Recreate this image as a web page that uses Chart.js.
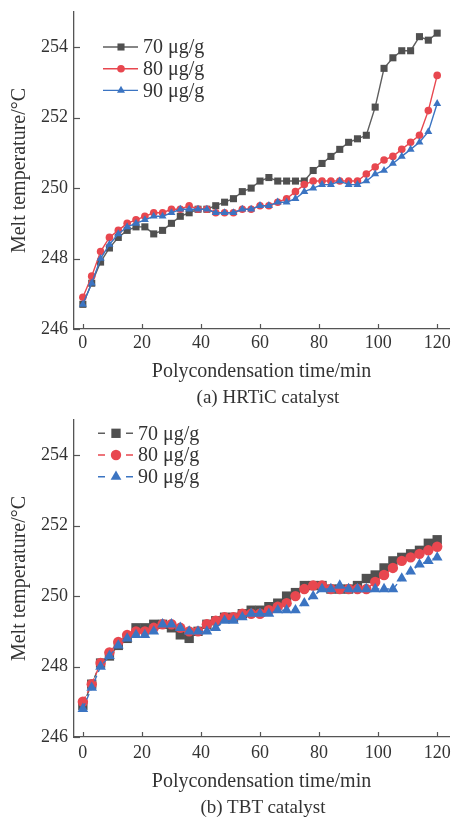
<!DOCTYPE html>
<html>
<head>
<meta charset="utf-8">
<script src="https://cdn.jsdelivr.net/npm/chart.js@4.4.1/dist/chart.umd.min.js"></script>
<style>
  html, body { margin: 0; padding: 0; background: #fff; }
  .panel { position: relative; width: 456px; height: 410px; }
  .panel canvas { position: absolute; left: 0; top: 0; }
  .caption {
    position: absolute; top: 386px; height: 24px; line-height: 24px;
    text-align: center; white-space: nowrap;
    font: 19px 'Liberation Serif', 'DejaVu Serif', serif; color: #333;
  }
</style>
</head>
<body>
<div class="panel">
  <canvas id="chartA" width="456" height="410"></canvas>
  <div class="caption" style="left: 168px; width: 200px;">(a) HRTiC catalyst</div>
</div>
<div class="panel">
  <canvas id="chartB" width="456" height="410"></canvas>
  <div class="caption" style="left: 163px; width: 200px;">(b) TBT catalyst</div>
</div>
<script>
// sampling times (min)
const time = [0, 3, 6, 9, 12, 15, 18, 21, 24, 27, 30, 33, 36, 39, 42, 45, 48, 51, 54, 57,
              60, 63, 66, 69, 72, 75, 78, 81, 84, 87, 90, 93, 96, 99, 102, 105, 108, 111, 114, 117, 120];

// (a) HRTiC catalyst
const hrtic70 = [246.7, 247.3, 247.9, 248.3, 248.6, 248.8, 248.9, 248.9, 248.7, 248.8, 249.0, 249.2, 249.3, 249.4, 249.4, 249.5, 249.6, 249.7, 249.9, 250.0,
                 250.2, 250.3, 250.2, 250.2, 250.2, 250.2, 250.5, 250.7, 250.9, 251.1, 251.3, 251.4, 251.5, 252.3, 253.4, 253.7, 253.9, 253.9, 254.3, 254.2, 254.4];
const hrtic80 = [246.9, 247.5, 248.2, 248.6, 248.8, 249.0, 249.1, 249.2, 249.3, 249.3, 249.4, 249.4, 249.5, 249.4, 249.4, 249.3, 249.3, 249.3, 249.4, 249.4,
                 249.5, 249.5, 249.6, 249.7, 249.9, 250.1, 250.2, 250.2, 250.2, 250.2, 250.2, 250.2, 250.4, 250.6, 250.8, 250.9, 251.1, 251.3, 251.5, 252.2, 253.2];
const hrtic90 = [246.7, 247.3, 248.0, 248.4, 248.7, 248.9, 249.0, 249.1, 249.2, 249.2, 249.3, 249.4, 249.4, 249.4, 249.4, 249.3, 249.3, 249.3, 249.4, 249.4,
                 249.5, 249.5, 249.6, 249.6, 249.7, 249.9, 250.0, 250.1, 250.1, 250.2, 250.1, 250.1, 250.2, 250.4, 250.5, 250.7, 250.9, 251.1, 251.3, 251.6, 252.4];

// (b) TBT catalyst
const tbt70 = [246.9, 247.5, 248.1, 248.3, 248.6, 248.8, 249.1, 249.1, 249.2, 249.2, 249.1, 248.9, 248.8, 249.0, 249.2, 249.3, 249.4, 249.4, 249.5, 249.6,
               249.6, 249.7, 249.8, 250.0, 250.1, 250.3, 250.3, 250.3, 250.2, 250.2, 250.2, 250.3, 250.5, 250.6, 250.8, 251.0, 251.1, 251.2, 251.3, 251.5, 251.6];
const tbt80 = [247.0, 247.5, 248.1, 248.4, 248.7, 248.9, 249.0, 249.0, 249.1, 249.2, 249.2, 249.1, 249.0, 249.0, 249.2, 249.3, 249.4, 249.4, 249.5, 249.5,
               249.5, 249.6, 249.7, 249.8, 250.0, 250.2, 250.3, 250.3, 250.2, 250.2, 250.2, 250.2, 250.2, 250.4, 250.6, 250.8, 251.0, 251.1, 251.2, 251.3, 251.4];
const tbt90 = [246.8, 247.4, 248.0, 248.3, 248.6, 248.8, 248.9, 248.9, 249.0, 249.2, 249.2, 249.1, 249.0, 249.0, 249.0, 249.1, 249.3, 249.3, 249.4, 249.5,
               249.5, 249.5, 249.6, 249.6, 249.6, 249.8, 250.0, 250.2, 250.2, 250.3, 250.2, 250.2, 250.2, 250.2, 250.2, 250.2, 250.5, 250.7, 250.9, 251.0, 251.1];

const seriesLabels = ['70 \u03bcg/g', '80 \u03bcg/g', '90 \u03bcg/g'];
const xTicks = [0, 20, 40, 60, 80, 100, 120];
const yTicks = [246, 248, 250, 252, 254];

const FONT = "'Liberation Serif', 'DejaVu Serif', serif";
const TEXT = '#333';
const AXIS = '#555';
const lineColors = ['#5e5e5e', '#e8474f', '#3b74c2'];
const markerColors = ['#505050', '#e8474f', '#3b74c2'];
const pointStyles = ['rect', 'circle', 'triangle'];

// tick marks pointing into the plot
const innerTicks = {
    id: 'innerTicks',
    beforeDatasetsDraw(chart) {
        const { ctx, chartArea, scales } = chart;
        ctx.save();
        ctx.strokeStyle = AXIS;
        ctx.lineWidth = 1.2;
        scales.x.ticks.forEach(t => {
            const px = Math.round(scales.x.getPixelForValue(t.value)) + 0.5;
            ctx.beginPath();
            ctx.moveTo(px, chartArea.bottom);
            ctx.lineTo(px, chartArea.bottom - 5);
            ctx.stroke();
        });
        scales.y.ticks.forEach(t => {
            const py = Math.round(scales.y.getPixelForValue(t.value)) + 0.5;
            ctx.beginPath();
            ctx.moveTo(chartArea.left, py);
            ctx.lineTo(chartArea.left + 6, py);
            ctx.stroke();
        });
        ctx.restore();
    }
};

function drawMarker(ctx, style, x, y, r) {
    ctx.beginPath();
    if (style === 'rect') {
        const s = r * Math.SQRT1_2;
        ctx.rect(x - s, y - s, 2 * s, 2 * s);
    } else if (style === 'circle') {
        ctx.arc(x, y, r, 0, Math.PI * 2);
    } else {
        ctx.moveTo(x, y - r);
        ctx.lineTo(x + r * Math.sin(Math.PI / 3), y + r / 2);
        ctx.lineTo(x - r * Math.sin(Math.PI / 3), y + r / 2);
        ctx.closePath();
    }
    ctx.fill();
}

// legend with the line / dash segments through the marker
const lineLegend = {
    id: 'lineLegend',
    afterDraw(chart, args, opts) {
        const { ctx } = chart;
        ctx.save();
        chart.data.datasets.forEach((ds, i) => {
            const y = opts.y + i * opts.gap;
            ctx.strokeStyle = ds.borderColor;
            ctx.lineWidth = 1.4;
            ctx.beginPath();
            opts.segments.forEach(([a, b]) => {
                ctx.moveTo(opts.x + a, y);
                ctx.lineTo(opts.x + b, y);
            });
            ctx.stroke();
            ctx.fillStyle = ds.pointBackgroundColor;
            drawMarker(ctx, ds.pointStyle, opts.x + opts.markerAt, y, ds.pointRadius);
            ctx.fillStyle = TEXT;
            ctx.font = '20px ' + FONT;
            ctx.textBaseline = 'middle';
            ctx.fillText(ds.label, opts.x + opts.textAt, y + 1);
        });
        ctx.restore();
    }
};

function buildChart(canvasId, series, look) {
    const datasets = series.map((values, i) => ({
        label: seriesLabels[i],
        data: time.map((t, k) => ({ x: t, y: values[k] })),
        borderColor: lineColors[i],
        borderWidth: 1.4,
        borderDash: look.dash,
        pointStyle: pointStyles[i],
        pointRadius: look.radius[i],
        pointBackgroundColor: markerColors[i],
        pointBorderColor: markerColors[i],
        pointBorderWidth: 0,
        order: 3 - i,
        tension: 0
    }));

    return new Chart(document.getElementById(canvasId), {
        type: 'line',
        data: { datasets },
        options: {
            responsive: false,
            animation: false,
            // bottom padding leaves room for the html caption
            layout: { padding: { top: look.top, right: 7, bottom: 26, left: 0 } },
            plugins: {
                legend: { display: false },
                tooltip: { enabled: false },
                lineLegend: look.legend
            },
            scales: {
                x: {
                    type: 'linear',
                    min: -3,
                    max: 124,
                    grid: { display: false, drawTicks: false },
                    border: { color: AXIS, width: 1.3 },
                    ticks: { color: TEXT, font: { family: FONT, size: 18 }, padding: look.tickPad, maxRotation: 0, autoSkip: false },
                    afterBuildTicks: s => { s.ticks = xTicks.map(v => ({ value: v })); },
                    afterFit: s => { s.height = look.xHeight; s.paddingLeft = 0; s.paddingRight = 0; },
                    title: {
                        display: true,
                        text: 'Polycondensation time/min',
                        color: TEXT,
                        font: { family: FONT, size: 20 },
                        padding: { top: 0, bottom: 0 }
                    }
                },
                y: {
                    min: 246,
                    max: 255,
                    grid: { display: false, drawTicks: false },
                    border: { color: AXIS, width: 1.3 },
                    ticks: { color: TEXT, font: { family: FONT, size: 18 }, padding: 6 },
                    afterBuildTicks: s => { s.ticks = yTicks.map(v => ({ value: v })); },
                    afterFit: s => { s.width = 74; s.paddingTop = 0; s.paddingBottom = 0; },
                    title: {
                        display: true,
                        text: 'Melt temperature/\u00b0C',
                        color: TEXT,
                        font: { family: FONT, size: 20 },
                        padding: { top: 8, bottom: 0 }
                    }
                }
            }
        },
        plugins: [innerTicks, lineLegend]
    });
}

buildChart('chartA', [hrtic70, hrtic80, hrtic90], {
    top: 12, xHeight: 55, tickPad: 3,
    dash: [],
    radius: [5, 3.8, 4.6],
    legend: { x: 103, y: 47, gap: 21.7, segments: [[0, 35]], markerAt: 18, textAt: 40 }
});

buildChart('chartB', [tbt70, tbt80, tbt90], {
    top: 10, xHeight: 57, tickPad: 5,
    dash: [6, 4],
    radius: [6.6, 5.2, 6.2],
    legend: { x: 98, y: 23.3, gap: 21.7, segments: [[0, 7], [28, 35]], markerAt: 18, textAt: 40 }
});
</script>
</body>
</html>
